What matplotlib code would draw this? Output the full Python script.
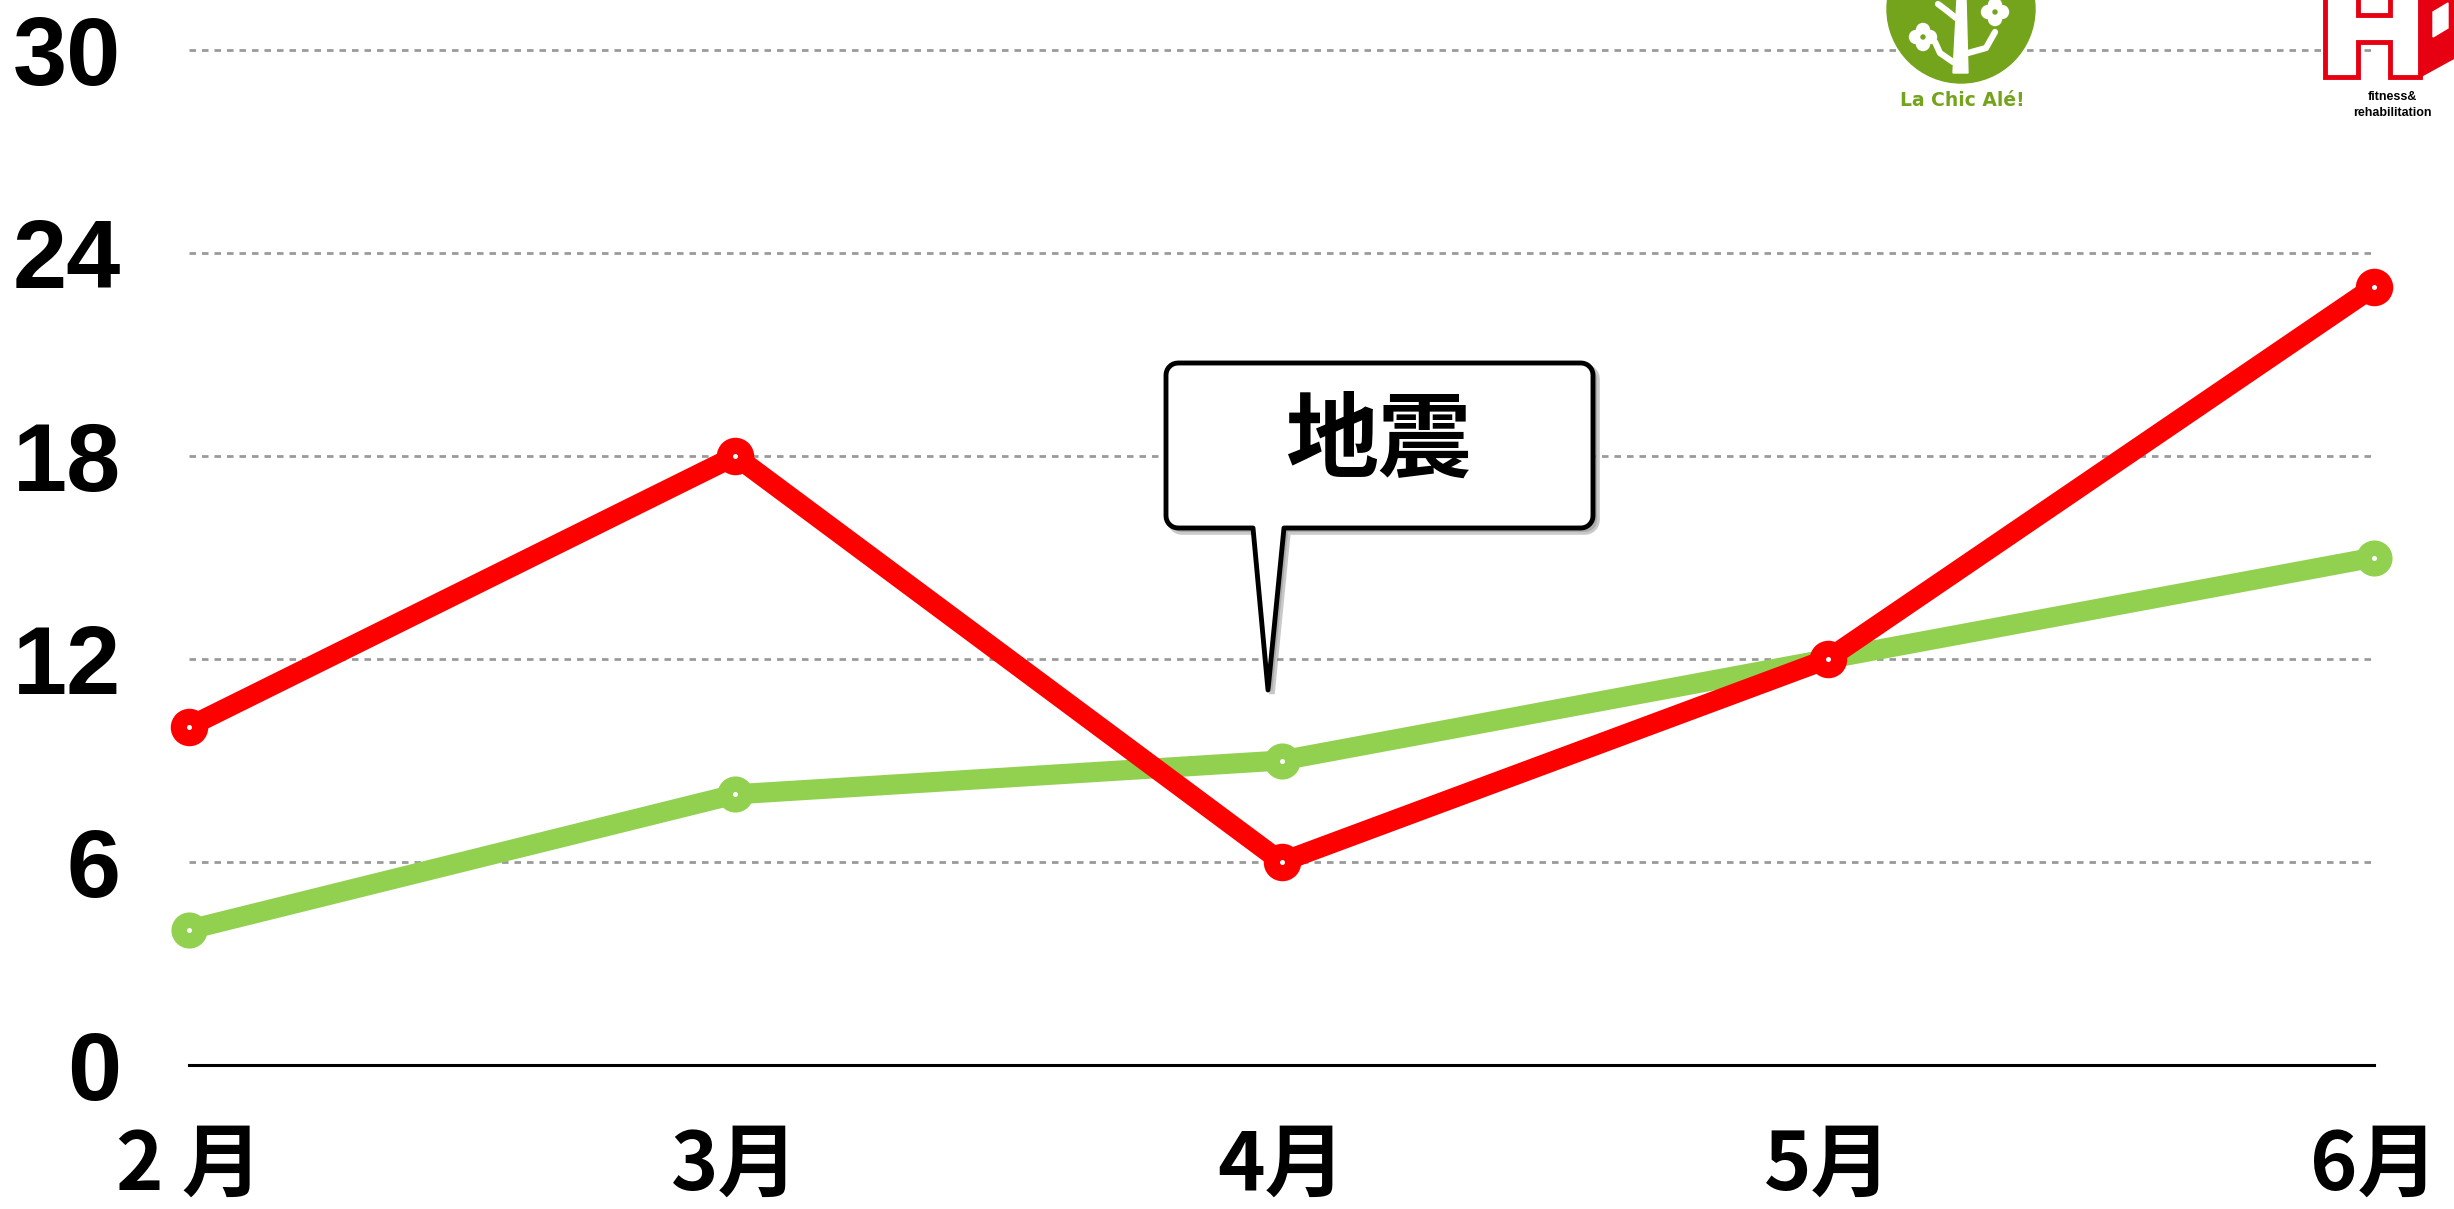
import numpy as np
import matplotlib
matplotlib.use("Agg")
import matplotlib.pyplot as plt
from matplotlib.patches import Polygon, Circle
from matplotlib.transforms import Affine2D

# chart data
months = ["2 月", "3月", "4月", "5月", "6月"]
series_red = [10, 18, 6, 12, 23]
series_green = [4, 8, 9, 12, 15]
y_ticks = [0, 6, 12, 18, 24, 30]
callout_text = "地震"

RED = "#FF0000"
GREEN = "#92D050"
LOGO_GREEN = "#74A31C"

W, H = 2454, 1209
fig = plt.figure(figsize=(W / 100, H / 100), dpi=100)
ax = fig.add_axes([189 / W, 1 - 1065 / H, 2185 / W, 1015 / H])
# pixel coords from the top-left corner, for the decorations
px = Affine2D().scale(1 / W, -1 / H).translate(0, 1) + fig.transFigure

x = np.arange(len(months))
ax.set_xlim(0, len(months) - 1)
ax.set_ylim(0, 30)
for s in ax.spines.values():
    s.set_visible(False)

for yv in y_ticks[1:]:
    ax.axhline(yv, color="#9a9a9a", lw=2, ls=(0, (2.35, 2.15)),
               clip_on=False, zorder=1)
ax.axhline(0, color="black", lw=2.2, clip_on=False, zorder=1)

ax.plot(x, series_green, color=GREEN, lw=14.5, marker="o", ms=26, mew=0,
        clip_on=False, zorder=3)
ax.plot(x, series_green, "o", color="white", ms=3.6, mew=0,
        clip_on=False, zorder=3.5)
ax.plot(x, series_red, color=RED, lw=14.5, marker="o", ms=27, mew=0,
        clip_on=False, zorder=4)
ax.plot(x, series_red, "o", color="white", ms=3.6, mew=0,
        clip_on=False, zorder=4.5)

ax.set_yticks(y_ticks, [str(v) for v in y_ticks], fontsize=70,
              fontweight="bold", family=["Liberation Sans", "DejaVu Sans"])
ax.set_xticks(x, months, fontsize=58, fontweight="bold",
              family=["Noto Sans CJK JP", "DejaVu Sans"])
ax.tick_params(length=0)
ax.tick_params(axis="y", pad=49)
ax.tick_params(axis="x", pad=44)


# callout bubble
def arc(cx, cy, r, a0, a1, n=8):
    a = np.radians(np.linspace(a0, a1, n))
    return list(zip(cx + r * np.cos(a), cy + r * np.sin(a)))


x0, y0, x1, y1, r = 1166, 363, 1593, 528, 12
pts = arc(x0 + r, y0 + r, r, 180, 270)
pts += arc(x1 - r, y0 + r, r, 270, 360)
pts += arc(x1 - r, y1 - r, r, 0, 90)
pts += [(1284, y1), (1268, 690), (1253, y1)]
pts += arc(x0 + r, y1 - r, r, 90, 180)
pts = np.array(pts)

shadow = Polygon(pts + [4, 4], closed=True, transform=px, fc="#888888",
                 ec="#888888", lw=4, alpha=0.45, zorder=5)
bubble = Polygon(pts, closed=True, transform=px, fc="white", ec="black",
                 lw=3.5, joinstyle="round", zorder=6)
fig.add_artist(shadow)
fig.add_artist(bubble)
fig.text(1378, 442, callout_text, transform=px, ha="center", va="center",
         fontsize=67, fontweight="bold", family=["Noto Sans CJK JP"],
         zorder=7)

# logo 1: green circle with a tree
fig.add_artist(Circle((1961, 9), 74, transform=px, color=LOGO_GREEN,
                      zorder=8))
fig.add_artist(Polygon([(1953, 73), (1968, 73), (1966, -2), (1957, -2)],
                       transform=px, color="white", zorder=9))
for branch in ([(1953, 62), (1940, 53), (1935, 42)],
               [(1968, 53), (1986, 48), (1995, 32)],
               [(1956, 18), (1946, 10), (1938, 4)]):
    b = np.array(branch)
    fig.add_artist(plt.Line2D(b[:, 0], b[:, 1], transform=px, color="white",
                              lw=4.5, solid_capstyle="round", zorder=9))
for fx, fy in ((1923, 37), (1995, 12)):
    for dx, dy in ((0, -7), (0, 7), (-7, 0), (7, 0)):
        fig.add_artist(Circle((fx + dx, fy + dy), 6.5, transform=px,
                              color="white", zorder=9))
    fig.add_artist(Circle((fx, fy), 4, transform=px, color="white", zorder=9))
    fig.add_artist(Circle((fx, fy), 2, transform=px, color=LOGO_GREEN,
                          zorder=10))
fig.text(1962, 100, "La Chic Alé!", transform=px, ha="center", va="center",
         fontsize=13.5, fontweight="bold", color=LOGO_GREEN,
         family=["DejaVu Sans"])

# logo 2: red H block
fig.add_artist(Polygon([(2420, -5), (2460, -5), (2460, 55), (2420, 77)],
                       transform=px, color="#E60012", zorder=8))
fig.add_artist(Polygon([(2433, 12), (2448, 3), (2448, 28), (2433, 37)],
                       transform=px, color="white", zorder=9))
h_shape = [(2325, -5), (2358, -5), (2358, 15), (2390, 15), (2390, -5),
           (2420, -5), (2420, 77), (2390, 77), (2390, 42), (2358, 42),
           (2358, 77), (2325, 77)]
fig.add_artist(Polygon(h_shape, transform=px, fc="white", ec="#E60012",
                       lw=3.5, zorder=9))
fig.text(2392, 97, "fitness&", transform=px, ha="center", va="center",
         fontsize=9, fontweight="bold", family=["Liberation Sans"])
fig.text(2392, 113, "rehabilitation", transform=px, ha="center",
         va="center", fontsize=9, fontweight="bold",
         family=["Liberation Sans"])

fig.savefig("out.png", dpi=100, facecolor="white")
